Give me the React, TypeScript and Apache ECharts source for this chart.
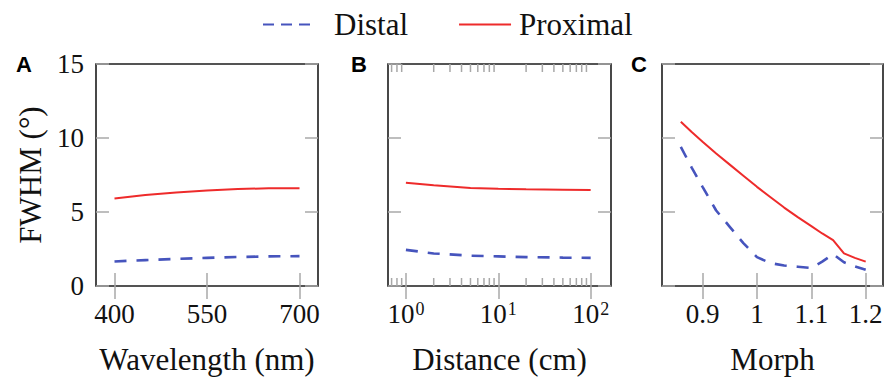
import React, { useEffect, useRef } from "react";
import * as echarts from "echarts";

// ---------- data ----------
const legendNames = ["Distal", "Proximal"];

const wavelengths = [400, 450, 500, 550, 600, 650, 700];
const distalWavelength = [1.66, 1.75, 1.83, 1.9, 1.96, 2.0, 2.02];
const proximalWavelength = [5.92, 6.15, 6.32, 6.45, 6.55, 6.6, 6.6];

const distances = [1, 2, 5, 10, 20, 50, 100];
const distalDistance = [2.44, 2.2, 2.05, 2.0, 1.95, 1.92, 1.9];
const proximalDistance = [6.97, 6.8, 6.62, 6.57, 6.53, 6.5, 6.48];

const morphs = [0.86, 0.88, 0.9, 0.925, 0.95, 0.975, 1.0, 1.025, 1.05, 1.075, 1.1, 1.12, 1.14, 1.16, 1.18, 1.2];
const distalMorph = [9.4, 8.0, 6.7, 5.1, 4.0, 2.9, 1.95, 1.55, 1.38, 1.3, 1.22, 1.65, 2.15, 1.6, 1.33, 1.1];
const proximalMorph = [11.1, 10.4, 9.75, 8.95, 8.2, 7.45, 6.7, 6.0, 5.3, 4.65, 4.05, 3.55, 3.1, 2.2, 1.9, 1.65];

const fwhmTicks = [0, 5, 10, 15];
const wavelengthTicks = [400, 550, 700];
const distanceTicks = [1, 10, 100];
const distanceMinorTicks = [0.7, 0.8, 0.9, 2, 3, 4, 5, 6, 7, 8, 9, 20, 30, 40, 50, 60, 70, 80, 90];
const morphTicks = [0.9, 1, 1.1, 1.2];

// ---------- styling ----------
const FONT = "Liberation Serif";
const SANS = "Liberation Sans";
const RED = "#ee2b2b";
const BLUE = "#4654bd";
const TICK = "#a8a8a8";
const FRAME = "#1c1c1c";
const DASH = [12, 10];

const TOP = 64;
const HEIGHT = 222;
const LABEL_SIZE = 27;
const NAME_SIZE = 31;

export default function App() {
  const ref = useRef<HTMLDivElement>(null);

  useEffect(() => {
    document.body.style.margin = "0";
    if (!ref.current) return;
    const chart = echarts.init(ref.current, null, { renderer: "svg" });

    const gridBase = {
      top: TOP,
      height: HEIGHT,
      show: true,
      borderColor: FRAME,
      borderWidth: 1.6,
      backgroundColor: "transparent",
      containLabel: false,
      outerBoundsMode: "none",
    };

    const tickStyle = (len: number) => ({
      show: true,
      inside: true,
      length: len,
      lineStyle: { color: TICK, width: 1.5 },
    });

    const labelStyle = { fontFamily: FONT, fontSize: LABEL_SIZE, color: "#111", fontWeight: "normal" };
    const nameStyle = { fontFamily: FONT, fontSize: NAME_SIZE, color: "#111", fontWeight: "normal" };

    const xBottom = (gridIndex: number, extra: any) => ({
      gridIndex,
      position: "bottom",
      axisLine: { show: false },
      splitLine: { show: false },
      nameLocation: "middle",
      nameGap: 58,
      nameTextStyle: nameStyle,
      ...extra,
    });
    const xTop = (gridIndex: number, extra: any) => ({
      gridIndex,
      position: "top",
      axisLine: { show: false },
      splitLine: { show: false },
      axisLabel: { show: false },
      ...extra,
    });

    const yAxis = (gridIndex: number, position: string, showLabel: boolean, extra: any = {}) => ({
      gridIndex,
      type: "value",
      position,
      min: 0,
      max: 15,
      interval: 5,
      axisLine: { show: false },
      splitLine: { show: false },
      axisTick: { ...tickStyle(13), customValues: fwhmTicks },
      axisLabel: showLabel
        ? { show: true, margin: 12, customValues: fwhmTicks, ...labelStyle }
        : { show: false },
      ...extra,
    });

    const morphFmt = (v: number) =>
      Math.abs(v * 10 - Math.round(v * 10)) < 1e-6 ? String(+v.toFixed(1)) : "";

    const lineSeries = (name: string, xi: number, xs: number[], ys: number[]) => ({
      name,
      type: "line",
      xAxisIndex: xi,
      yAxisIndex: xi,
      data: xs.map((x, i) => [x, ys[i]]),
      showSymbol: false,
      symbol: "none",
      color: name === "Distal" ? BLUE : RED,
      lineStyle:
        name === "Distal"
          ? { color: BLUE, width: 2.6, type: DASH }
          : { color: RED, width: 2 },
      z: 3,
    });

    const option: any = {
      animation: false,
      textStyle: { fontFamily: FONT },
      legend: {
        left: 257,
        top: 4,
        itemWidth: 52,
        itemHeight: 14,
        itemGap: 50,
        itemStyle: { opacity: 0 },
        textStyle: { fontFamily: FONT, fontSize: NAME_SIZE, color: "#111" },
        data: [
          {
            name: legendNames[0],
            lineStyle: { type: [11, 7] },
            textStyle: { fontFamily: FONT, fontSize: NAME_SIZE, color: "#111", padding: [0, 0, 0, 14] },
          },
          {
            name: legendNames[1],
            textStyle: { fontFamily: FONT, fontSize: NAME_SIZE, color: "#111", padding: [0, 0, 0, 3] },
          },
        ],
      },
      grid: [
        { ...gridBase, left: 96, width: 222 },
        { ...gridBase, left: 388, width: 223 },
        { ...gridBase, left: 662, width: 221 },
      ],
      xAxis: [
        // A
        xBottom(0, {
          type: "value",
          min: 370,
          max: 730,
          name: "Wavelength (nm)",
          axisTick: { ...tickStyle(13), customValues: wavelengthTicks },
          axisLabel: { margin: 14, customValues: wavelengthTicks, ...labelStyle },
        }),
        // B
        xBottom(1, {
          type: "log",
          logBase: 10,
          min: 0.64,
          max: 166,
          name: "Distance (cm)",
          axisTick: { ...tickStyle(13), customValues: distanceTicks },
          axisLabel: {
            margin: 14,
            customValues: distanceTicks,
            ...labelStyle,
            formatter: (v: number) => `{a|10}{b|${Math.round(Math.log10(v))}}`,
            rich: {
              a: { fontFamily: FONT, fontSize: LABEL_SIZE, color: "#111" },
              b: { fontFamily: FONT, fontSize: 18, color: "#111", verticalAlign: "top", padding: [0, 0, 9, 1] },
            },
          },
        }),
        // C
        xBottom(2, {
          type: "value",
          min: 0.8254,
          max: 1.2318,
          name: "Morph",
          axisTick: { ...tickStyle(13), customValues: morphTicks },
          axisLabel: { margin: 14, customValues: morphTicks, formatter: morphFmt, ...labelStyle },
        }),
        // top mirrors
        xTop(0, { type: "value", min: 370, max: 730, axisTick: { ...tickStyle(13), customValues: wavelengthTicks } }),
        xTop(1, { type: "log", logBase: 10, min: 0.64, max: 166, axisTick: { ...tickStyle(13), customValues: distanceTicks } }),
        xTop(2, { type: "value", min: 0.8254, max: 1.2318, axisTick: { ...tickStyle(13), customValues: morphTicks } }),
      ],
      yAxis: [
        yAxis(0, "left", true, {
          name: "FWHM (°)",
          nameLocation: "middle",
          nameGap: 50,
          nameTextStyle: nameStyle,
        }),
        yAxis(1, "left", false),
        yAxis(2, "left", false),
        yAxis(0, "right", false),
        yAxis(1, "right", false),
        yAxis(2, "right", false),
      ],
      series: [
        lineSeries("Distal", 0, wavelengths, distalWavelength),
        lineSeries("Proximal", 0, wavelengths, proximalWavelength),
        lineSeries("Distal", 1, distances, distalDistance),
        lineSeries("Proximal", 1, distances, proximalDistance),
        lineSeries("Distal", 2, morphs, distalMorph),
        lineSeries("Proximal", 2, morphs, proximalMorph),
        {
          name: "minorTicks",
          type: "custom",
          xAxisIndex: 1,
          yAxisIndex: 1,
          silent: true,
          clip: false,
          z: 1,
          data: distanceMinorTicks.map((v) => [v, 0]),
          encode: { x: 0, y: 1 },
          renderItem: (_p: any, api: any) => {
            const v = api.value(0);
            const b = api.coord([v, 0]);
            const t = api.coord([v, 15]);
            const st = { stroke: TICK, lineWidth: 1.5 };
            return {
              type: "group",
              children: [
                { type: "line", shape: { x1: b[0], y1: b[1], x2: b[0], y2: b[1] - 8 }, style: st },
                { type: "line", shape: { x1: t[0], y1: t[1], x2: t[0], y2: t[1] + 8 }, style: st },
              ],
            };
          },
        },
      ],
      graphic: [
        { type: "text", left: 16, top: 53, style: { text: "A", fontFamily: SANS, fontWeight: "bold", fontSize: 22, fill: "#000" } },
        { type: "text", left: 351, top: 53, style: { text: "B", fontFamily: SANS, fontWeight: "bold", fontSize: 22, fill: "#000" } },
        { type: "text", left: 631, top: 53, style: { text: "C", fontFamily: SANS, fontWeight: "bold", fontSize: 22, fill: "#000" } },
      ],
    };

    chart.setOption(option);
    return () => chart.dispose();
  }, []);

  return <div ref={ref} style={{ width: 884, height: 382 }} />;
}
